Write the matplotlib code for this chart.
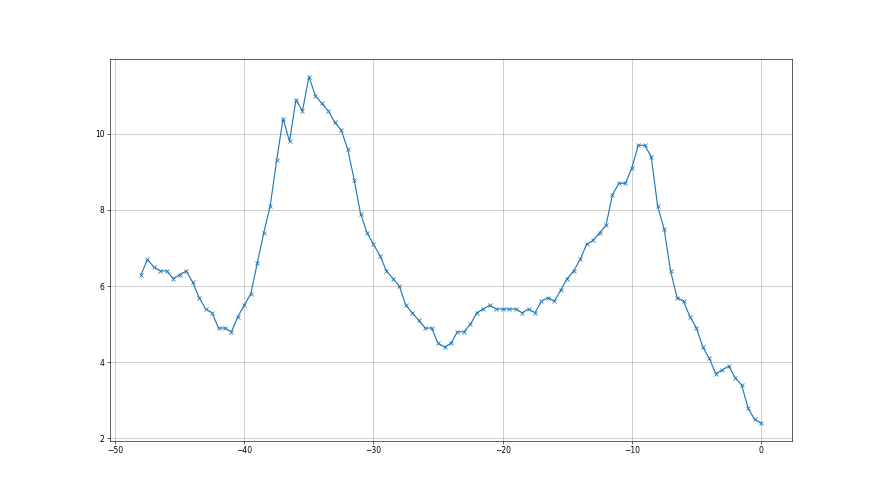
import numpy as np
import matplotlib
matplotlib.use("Agg")
import matplotlib.pyplot as plt

# x positions: every half unit from -48 to 0
x_start = -48.0
x_step = 0.5

values = [
    6.3, 6.7, 6.5, 6.4, 6.4, 6.2, 6.3, 6.4, 6.1, 5.7,
    5.4, 5.3, 4.9, 4.9, 4.8, 5.2, 5.5, 5.8, 6.6, 7.4,
    8.1, 9.3, 10.4, 9.8, 10.9, 10.6, 11.5, 11.0, 10.8, 10.6,
    10.3, 10.1, 9.6, 8.8, 7.9, 7.4, 7.1, 6.8, 6.4, 6.2,
    6.0, 5.5, 5.3, 5.1, 4.9, 4.9, 4.5, 4.4, 4.5, 4.8,
    4.8, 5.0, 5.3, 5.4, 5.5, 5.4, 5.4, 5.4, 5.4, 5.3,
    5.4, 5.3, 5.6, 5.7, 5.6, 5.9, 6.2, 6.4, 6.7, 7.1,
    7.2, 7.4, 7.6, 8.4, 8.7, 8.7, 9.1, 9.7, 9.7, 9.4,
    8.1, 7.5, 6.4, 5.7, 5.6, 5.2, 4.9, 4.4, 4.1, 3.7,
    3.8, 3.9, 3.6, 3.4, 2.8, 2.5, 2.4,
]
x = x_start + x_step * np.arange(len(values))

fig, ax = plt.subplots(figsize=(16, 9), dpi=55)
ax.plot(x, values, marker='x')
ax.grid(True)

plt.savefig('out.png', dpi=55)
